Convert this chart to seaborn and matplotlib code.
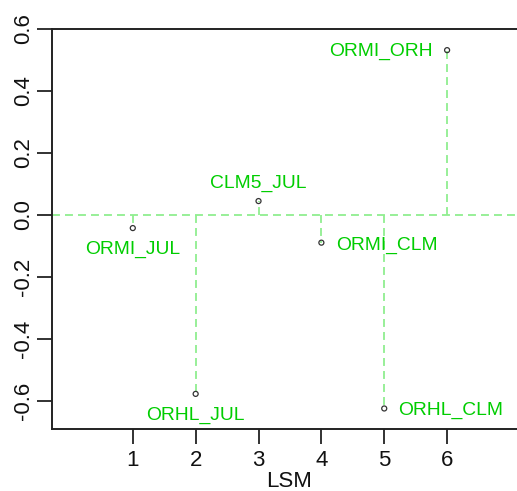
import matplotlib
matplotlib.use("Agg")
import matplotlib.pyplot as plt
import pandas as pd
import seaborn as sns

# Model pairs along the LSM axis and their values
lsm = [1, 2, 3, 4, 5, 6]
values = [-0.042, -0.576, 0.045, -0.089, -0.623, 0.531]
names = ["ORMI_JUL", "ORHL_JUL", "CLM5_JUL", "ORMI_CLM", "ORHL_CLM", "ORMI_ORH"]
x_ticks = [1, 2, 3, 4, 5, 6]
y_ticks = [-0.6, -0.4, -0.2, 0.0, 0.2, 0.4, 0.6]
y_tick_labels = ["-0.6", "-0.4", "-0.2", "0.0", "0.2", "0.4", "0.6"]

df = pd.DataFrame({"LSM": lsm, "value": values, "name": names})

sns.set_style("ticks")
plt.rcParams["font.family"] = ["Liberation Sans", "DejaVu Sans"]

fig = plt.figure(figsize=(5.17, 4.91), dpi=100)
ax = fig.add_axes([0.1, 0.1257, 0.918, 0.8158])

line_green = "#90EE90"
text_green = "#00CD00"
dash = (0, (4.4, 2.8))

# zero reference and drop lines from zero to every point
ax.axhline(0, color=line_green, lw=1.3, ls=dash, zorder=1)
ax.vlines(df["LSM"], 0, df["value"], colors=line_green, lw=1.3, linestyles=dash, zorder=1)

sns.scatterplot(data=df, x="LSM", y="value", ax=ax, marker="o", s=13,
                facecolor="none", edgecolor="#333333", linewidth=0.9, zorder=3,
                legend=False)

# label placement: (dx, dy) in points, horizontal alignment
placement = {
    "ORMI_JUL": (0, -18.4, "center"),
    "ORHL_JUL": (0, -18.5, "center"),
    "CLM5_JUL": (0, 9.4, "center"),
    "ORMI_CLM": (10.3, -5.0, "left"),
    "ORHL_CLM": (10.3, -4.5, "left"),
    "ORMI_ORH": (-10.3, -4.3, "right"),
}
for x, y, n in zip(df["LSM"], df["value"], df["name"]):
    dx, dy, ha = placement[n]
    ax.annotate(n, (x, y), xytext=(dx, dy), textcoords="offset points",
                ha=ha, va="baseline", color=text_green, fontsize=13.9)

ax.set_xlim(-0.29, 7.26)
ax.set_ylim(-0.69, 0.6)
ax.set_xticks(x_ticks)
ax.set_xticklabels([str(t) for t in x_ticks])
ax.set_yticks(y_ticks)
ax.set_yticklabels(y_tick_labels, rotation=90, va="center")

ax.tick_params(axis="both", length=10.5, width=1.3, color="#222222",
               labelsize=16, labelcolor="#111111")
ax.tick_params(axis="x", pad=4.5)
ax.tick_params(axis="y", pad=2.5)

for side in ["left", "bottom", "top", "right"]:
    ax.spines[side].set_visible(True)
    ax.spines[side].set_linewidth(1.4)
    ax.spines[side].set_color("#222222")

ax.set_xlabel("LSM", fontsize=16, labelpad=0, color="#111111")
ax.set_ylabel("")

fig.savefig("out.png", dpi=100)
